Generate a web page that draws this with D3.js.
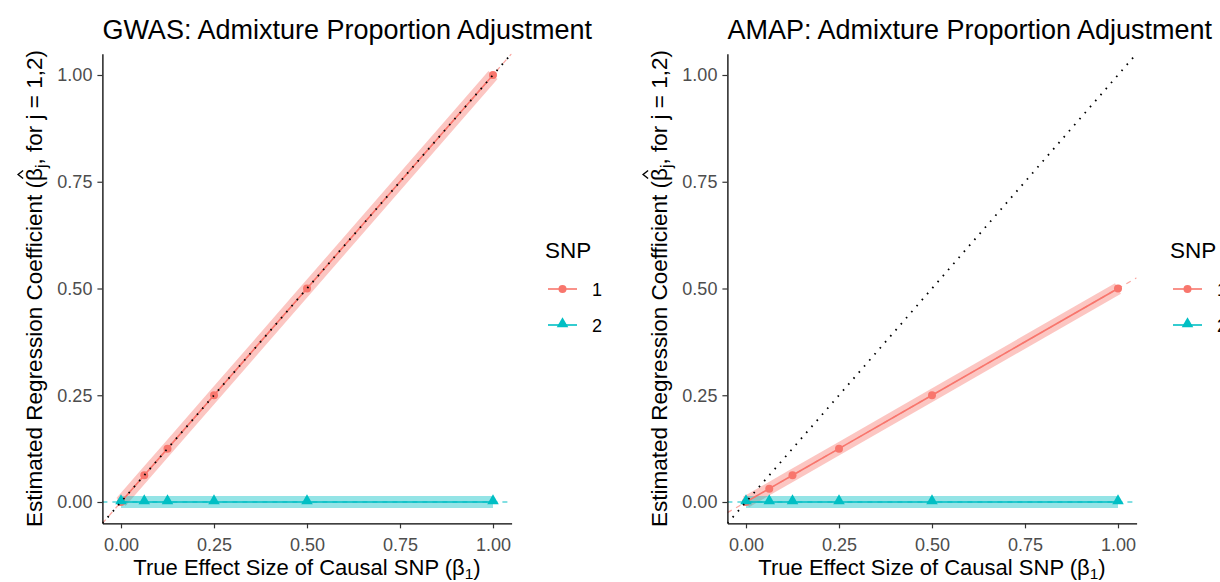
<!DOCTYPE html>
<html>
<head>
<meta charset="utf-8">
<script src="https://cdn.jsdelivr.net/npm/d3@7"></script>
<style>
  html, body { margin: 0; padding: 0; background: #fff; }
  svg { display: block; font-family: "Liberation Sans", Arial, sans-serif; }
</style>
</head>
<body>
<svg id="chart" width="1220" height="582"></svg>
<script>
// True effect size of the causal SNP (beta_1)
const beta = [0, 0.0625, 0.125, 0.25, 0.5, 1];
// Estimated coefficients, GWAS with admixture proportion adjustment
const gwasSnp1 = [0, 0.0625, 0.125, 0.25, 0.5, 1];
const gwasSnp2 = [0, 0, 0, 0, 0, 0];
// Estimated coefficients, AMAP with admixture proportion adjustment
const amapSnp1 = [0, 0.03125, 0.0625, 0.125, 0.25, 0.5];
const amapSnp2 = [0, 0, 0, 0, 0, 0];
// Fitted slopes of the dashed reference lines (slope through origin)
const gwasSlopes = [1, 0];
const amapSlopes = [0.5, 0];

const panelTitles = ["GWAS: Admixture Proportion Adjustment", "AMAP: Admixture Proportion Adjustment"];
const snpLabels = ["1", "2"];
const tickValues = [0, 0.25, 0.5, 0.75, 1];

const colors = ["#F8766D", "#00BFC4"];
const fs = { title: 27, axisTitle: 22.5, xTitle: 22, tick: 18, legendTitle: 22.5, legendText: 18 };

const svg = d3.select("#chart");

const panels = [
  { title: panelTitles[0], series: [gwasSnp1, gwasSnp2], slopes: gwasSlopes, ox: 0 },
  { title: panelTitles[1], series: [amapSnp1, amapSnp2], slopes: amapSlopes, ox: 625 }
];

const triangle = d3.symbol().type(d3.symbolTriangle).size(58);

panels.forEach(p => {
  const g = svg.append("g").attr("transform", `translate(${p.ox},0)`);
  const x = d3.scaleLinear().domain([-0.05, 1.05]).range([102.4, 511.6]);
  const y = d3.scaleLinear().domain([-0.05, 1.05]).range([523.35, 53.65]);

  const clipId = "clip" + p.ox;
  g.append("clipPath").attr("id", clipId)
    .append("rect").attr("x", x.range()[0]).attr("y", y.range()[1])
    .attr("width", x.range()[1] - x.range()[0]).attr("height", y.range()[0] - y.range()[1]);
  const plot = g.append("g").attr("clip-path", `url(#${clipId})`);

  const line = d3.line().x(d => x(d[0])).y(d => y(d[1]));

  // translucent bands along each series
  p.series.forEach((s, i) => {
    plot.append("path")
      .datum(beta.map((b, k) => [b, s[k]]))
      .attr("d", line)
      .attr("fill", "none")
      .attr("stroke", colors[i])
      .attr("stroke-opacity", 0.42)
      .attr("stroke-width", 12)
      .attr("stroke-linecap", "butt");
  });

  // dashed fitted lines across the full panel
  p.slopes.forEach((m, i) => {
    const ends = x.domain().map(v => [v, m * v]);
    plot.append("path")
      .datum(ends)
      .attr("d", line)
      .attr("fill", "none")
      .attr("stroke", colors[i])
      .attr("stroke-opacity", 0.65)
      .attr("stroke-width", 1.3)
      .attr("stroke-dasharray", "5,5");
  });

  // solid series lines
  p.series.forEach((s, i) => {
    plot.append("path")
      .datum(beta.map((b, k) => [b, s[k]]))
      .attr("d", line)
      .attr("fill", "none")
      .attr("stroke", colors[i])
      .attr("stroke-width", 1.6);
  });

  // points: circles for SNP 1, triangles for SNP 2
  plot.selectAll(".pt1").data(beta.map((b, k) => [b, p.series[0][k]])).enter()
    .append("circle")
    .attr("cx", d => x(d[0])).attr("cy", d => y(d[1])).attr("r", 4)
    .attr("fill", colors[0]);
  plot.selectAll(".pt2").data(beta.map((b, k) => [b, p.series[1][k]])).enter()
    .append("path")
    .attr("d", triangle)
    .attr("transform", d => `translate(${x(d[0])},${y(d[1]) - 1})`)
    .attr("fill", colors[1]);

  // identity line y = x (dotted)
  plot.append("path")
    .datum(x.domain().map(v => [v, v]))
    .attr("d", line)
    .attr("fill", "none")
    .attr("stroke", "#000")
    .attr("stroke-width", 1.8)
    .attr("stroke-dasharray", "1.6,6.4");

  // axes
  const xAxis = d3.axisBottom(x).tickValues(tickValues).tickFormat(d3.format(".2f"))
    .tickSize(5).tickSizeOuter(0).tickPadding(10);
  const yAxis = d3.axisLeft(y).tickValues(tickValues).tickFormat(d3.format(".2f"))
    .tickSize(5).tickSizeOuter(0).tickPadding(5);

  const gx = g.append("g").attr("transform", `translate(0,${y.range()[0]})`).call(xAxis);
  const gy = g.append("g").attr("transform", `translate(${x.range()[0]},0)`).call(yAxis);
  [gx, gy].forEach(a => {
    a.select(".domain").attr("stroke", "#000").attr("stroke-width", 1.3);
    a.selectAll(".tick line").attr("stroke", "#333").attr("stroke-width", 1.2);
    a.selectAll(".tick text").attr("fill", "#4D4D4D").attr("font-size", fs.tick)
      .attr("font-family", "Liberation Sans, Arial, sans-serif");
  });

  // panel title
  g.append("text")
    .attr("x", x.range()[0]).attr("y", 39)
    .attr("font-size", fs.title).attr("fill", "#000")
    .text(p.title);

  // x axis title
  const xt = g.append("text")
    .attr("x", (x.range()[0] + x.range()[1]) / 2).attr("y", 575)
    .attr("text-anchor", "middle").attr("font-size", fs.xTitle).attr("fill", "#000");
  xt.append("tspan").text("True Effect Size of Causal SNP (β");
  xt.append("tspan").attr("font-size", fs.xTitle * 0.7).attr("dy", 4).text("1");
  xt.append("tspan").attr("dy", -4).text(")");

  // y axis title, rotated, with a hat drawn over beta
  const yc = (y.range()[0] + y.range()[1]) / 2;
  const yg = g.append("g").attr("transform", `translate(42,${yc}) rotate(-90)`);
  const yt = yg.append("text")
    .attr("x", 0).attr("y", 0)
    .attr("text-anchor", "middle").attr("font-size", fs.axisTitle).attr("fill", "#000");
  const pre = "Estimated Regression Coefficient (";
  yt.append("tspan").text(pre + "β");
  yt.append("tspan").attr("font-size", fs.axisTitle * 0.7).attr("dy", 5).text("j");
  yt.append("tspan").attr("dy", -5).text(", for j = 1,2)");
  const ext = yt.node().getExtentOfChar(pre.length);
  const hx = ext.x + ext.width / 2;
  const hy = -fs.axisTitle * 0.84;
  yg.append("path")
    .attr("d", `M${hx - 4},${hy} L${hx},${hy - 5} L${hx + 4},${hy}`)
    .attr("fill", "none").attr("stroke", "#000").attr("stroke-width", 1.4);

  // legend
  const lg = g.append("g").attr("transform", "translate(545,0)");
  lg.append("text").attr("x", 0).attr("y", 258)
    .attr("font-size", fs.legendTitle).attr("fill", "#000").text("SNP");
  snpLabels.forEach((lab, i) => {
    const ky = 289 + i * 36;
    lg.append("line").attr("x1", 3).attr("x2", 32).attr("y1", ky).attr("y2", ky)
      .attr("stroke", colors[i]).attr("stroke-width", 1.6);
    if (i === 0) {
      lg.append("circle").attr("cx", 17.5).attr("cy", ky).attr("r", 4).attr("fill", colors[i]);
    } else {
      lg.append("path").attr("d", triangle)
        .attr("transform", `translate(17.5,${ky - 1})`).attr("fill", colors[i]);
    }
    lg.append("text").attr("x", 47).attr("y", ky + 6.5)
      .attr("font-size", fs.legendText).attr("fill", "#000").text(lab);
  });
});
</script>
</body>
</html>
